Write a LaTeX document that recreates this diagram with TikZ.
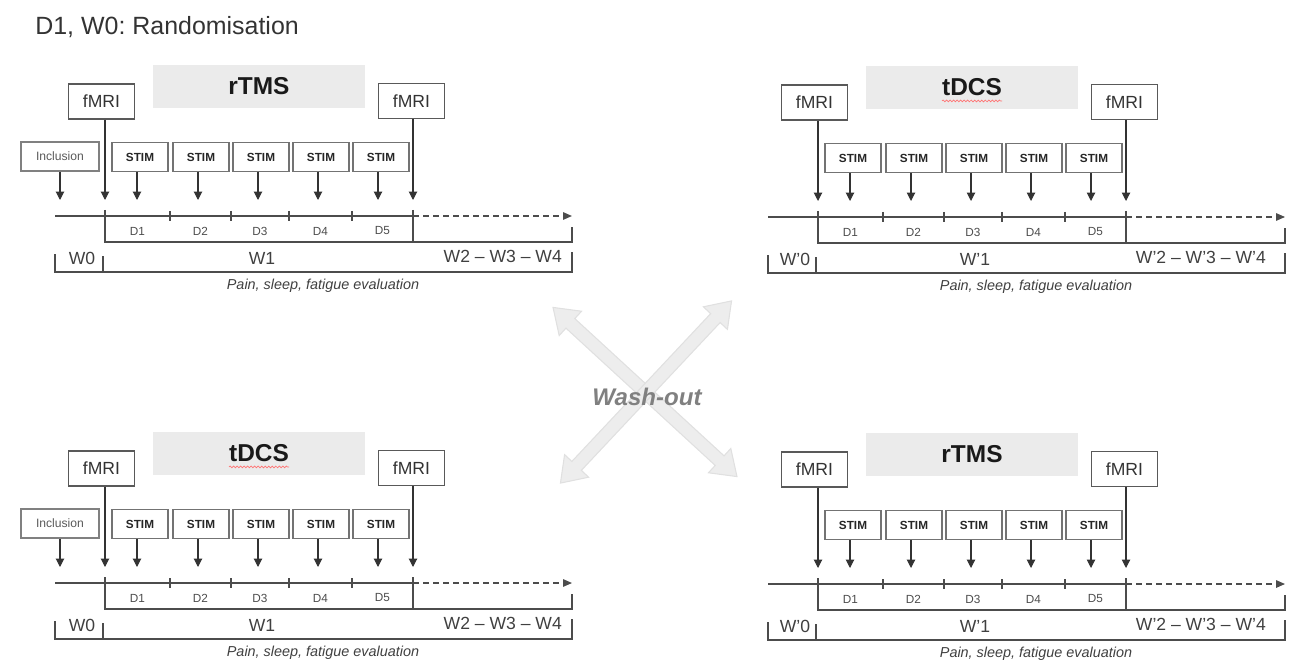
\documentclass[tikz,border=0pt]{standalone}
\usepackage{fontspec}
\setmainfont{Liberation Sans}
\usetikzlibrary{calc,arrows.meta,shapes.arrows,decorations.pathmorphing}
\frenchspacing

\tikzset{
  title/.style={font=\fontsize{14.2}{17}\selectfont, text=black!80, inner sep=0pt},
  method/.style={fill=black!8, minimum width=4.24cm, minimum height=0.86cm, inner sep=0pt,
    font=\fontsize{13.9}{16}\selectfont\bfseries, text=black!90},
  fmri/.style={draw=black!65, line width=0.8pt, minimum width=1.32cm, minimum height=0.7cm,
    inner sep=0pt, font=\fontsize{10}{12}\selectfont, text=black!80},
  stim/.style={draw=black!55, line width=0.9pt, minimum width=1.12cm, minimum height=0.58cm,
    inner sep=0pt, font=\fontsize{6.7}{8}\selectfont\bfseries, text=black!85},
  incl/.style={draw=black!50, line width=0.9pt, minimum width=1.56cm, minimum height=0.58cm,
    inner sep=0pt, font=\fontsize{6.9}{8}\selectfont, text=black!65},
  day/.style={font=\fontsize{6.7}{8}\selectfont, text=black!70},
  week/.style={font=\fontsize{10}{12}\selectfont, text=black!75},
  eval/.style={font=\fontsize{8.2}{10}\selectfont\itshape, text=black!75},
  axis/.style={line width=0.7pt, draw=black!70},
  arr/.style={line width=0.6pt, draw=black!80, -{Triangle[width=4.8pt,length=4.8pt]}},
  washarrow/.style={shape=double arrow, fill=black!7, draw=black!12, line width=0.6pt,
    minimum height=5cm, inner xsep=0pt, inner ysep=0.12cm,
    double arrow head extend=0.2cm, double arrow tip angle=70},
  washtext/.style={font=\fontsize{13.7}{16}\selectfont\bfseries\itshape, text=black!50},
  squiggle/.style={red!55, line width=0.4pt, decorate,
    decoration={snake, amplitude=0.5pt, segment length=2pt}}
}

% #1 prefix, #2 shift, #3 method, #4 prime, #5 x of the last label
\newcommand\trial[5]{%
  \begin{scope}[shift={(#2)}]
    \node[method] (#1m) at (259,86.5) {#3};
    \node[fmri] (#1fa) at (101.5,101.5) {fMRI};
    \node[fmri] (#1fb) at (411.5,101) {fMRI};

    \coordinate (#1a) at (55,216);
    \coordinate (#1t0) at (105,216);
    \coordinate (#1t1) at (170,216);
    \coordinate (#1t2) at (231,216);
    \coordinate (#1t3) at (289,216);
    \coordinate (#1t4) at (352,216);
    \coordinate (#1t5) at (413,216);
    \coordinate (#1e) at (572,216);
    \coordinate (#1tip) at (0,200);

    \foreach \x [count=\k] in {140,201,261,321,381} {
      \node[stim] (#1s\k) at (\x,157) {STIM};
      \draw[arr] ([xshift=-0.06cm]#1s\k.south) -- ([xshift=-0.06cm]#1s\k.south |- #1tip);
    }
    \draw[arr] (#1fa.south -| #1t0) -- (#1t0 |- #1tip);
    \draw[arr] (#1fb.south -| #1t5) -- (#1t5 |- #1tip);

    % time line
    \draw[axis] (#1a) -- (#1t5);
    \draw[axis, dash pattern=on 3.4pt off 2.3pt, -{Triangle[width=4.2pt,length=5pt]}] (#1t5) -- (#1e);
    \foreach \t in {1,...,4}
      \draw[axis] (#1t\t) +(0,-5) -- +(0,5);
    \foreach \i/\j [count=\k] in {0/1,1/2,2/3,3/4,4/5}
      \node[day] (#1d\k) at ($(#1t\i)!0.5!(#1t\j)+(0,15)$) {D\k};

    % brackets
    \draw[axis] (#1t0) +(0,-6) -- (#1t0 |- 0,242) -- (572,242) -- (572,227);
    \draw[axis] (#1t5) +(0,-6) -- (#1t5 |- 0,242);
    \draw[axis] (55,254) -- (55,272) -- (572,272) -- (572,252);
    \draw[axis] (103,256) -- (103,272);

    \node[week] (#1w0) at (82,258) {W#4{}0};
    \node[week] (#1w1) at (262,258) {W#4{}1};
    \node[week, anchor=east] (#1w2) at (#5,256) {W#4{}2 – W#4{}3 – W#4{}4};
    \node[eval] (#1ev) at (323,286) {Pain, sleep, fatigue evaluation};
  \end{scope}}

% #1 prefix, #2 shift
\newcommand\inclusion[2]{%
  \begin{scope}[shift={(#2)}]
    \node[incl] (#1in) at (60,156.5) {Inclusion};
    \draw[arr] (#1in) -- (#1in |- #1tip);
  \end{scope}}

\begin{document}
\begin{tikzpicture}[x=0.02cm, y=-0.02cm]
  \useasboundingbox (0,0) rectangle (1291,662);

  \node[title, anchor=west] (title) at (35,27) {D1, W0: Randomisation};

  \trial{tl}{0,0}{rTMS}{}{568}
  \inclusion{tl}{0,0}
  \trial{tr}{713,1}{tDCS}{'}{559}
  \trial{bl}{0,367}{tDCS}{}{568}
  \inclusion{bl}{0,367}
  \trial{br}{713,368}{rTMS}{'}{559}

  \draw[squiggle] ($(trm.base)+(-30,5)$) -- ($(trm.base)+(30,5)$);
  \draw[squiggle] ($(blm.base)+(-30,5)$) -- ($(blm.base)+(30,5)$);

  % wash-out
  \node[washarrow, rotate=-42.6] (wa) at (645,392) {};
  \node[washarrow, rotate=46.8] (wb) at (646,392) {};
  \node[washtext] (wash) at (647,397) {Wash-out};
\end{tikzpicture}
\end{document}
